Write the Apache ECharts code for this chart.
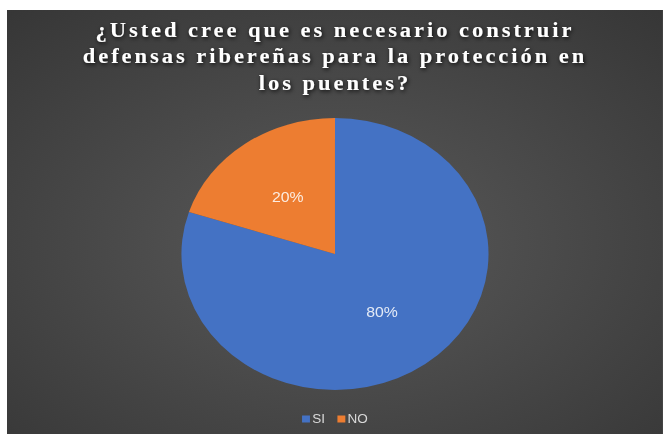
<!DOCTYPE html>
<html>
<head>
<meta charset="utf-8">
<script src="https://cdn.jsdelivr.net/npm/echarts@6/dist/echarts.min.js"></script>
<style>
  html, body { margin: 0; padding: 0; background: #ffffff; }
  body { width: 665px; height: 434px; overflow: hidden; position: relative; }
  /* the chart is drawn on a narrower canvas and stretched wide */
  #chart {
    position: absolute; left: 7px; top: 10px;
    width: 581px; height: 424px;
    transform: scaleX(1.129); transform-origin: 0 0;
  }
  /* widely tracked serif heading */
  #chart svg text[style*="Serif"],
  #chart svg text[font-family*="Serif"] { letter-spacing: 2.6px; }
</style>
</head>
<body>
<div id="chart"></div>
<script>
const titleLines = ['¿Usted cree que es necesario construir', 'defensas ribereñas para la protección en', 'los puentes?'];
const categories = ['SI', 'NO'];
const shares = [80, 20];
const sliceColors = ['#4472C4', '#ED7D31'];

const chart = echarts.init(document.getElementById('chart'), null, { renderer: 'svg' });

chart.setOption({
  backgroundColor: {
    type: 'radial', x: 0.5, y: 0.55, r: 0.75,
    colorStops: [
      { offset: 0, color: '#5a5a5a' },
      { offset: 1, color: '#363636' }
    ]
  },
  title: {
    text: titleLines.join('\n'),
    left: 'center',
    top: 2,
    textStyle: {
      fontFamily: 'Liberation Serif',
      fontWeight: 'bold',
      fontSize: 20,
      lineHeight: 26.5,
      color: '#ffffff',
      textShadowColor: 'rgba(0,0,0,0.85)',
      textShadowBlur: 4,
      textShadowOffsetX: 1,
      textShadowOffsetY: 1.5
    }
  },
  legend: {
    bottom: 4,
    left: 'center',
    itemWidth: 7,
    itemHeight: 7,
    itemGap: 11,
    icon: 'rect',
    data: categories,
    textStyle: { color: '#d9d9d9', fontFamily: 'Liberation Sans', fontSize: 12, padding: [0, 0, 0, -3] }
  },
  series: [{
    type: 'pie',
    center: ['50%', 244],
    radius: 136,
    startAngle: 90,
    clockwise: true,
    label: {
      show: true,
      position: 'inside',
      formatter: p => p.value + '%',
      color: 'rgba(255,255,255,0.85)',
      fontFamily: 'Liberation Sans',
      fontSize: 14
    },
    labelLine: { show: false },
    itemStyle: { borderWidth: 0 },
    emphasis: { disabled: true },
    data: categories.map((c, i) => ({
      name: c, value: shares[i], itemStyle: { color: sliceColors[i] }
    }))
  }]
});
</script>
</body>
</html>
